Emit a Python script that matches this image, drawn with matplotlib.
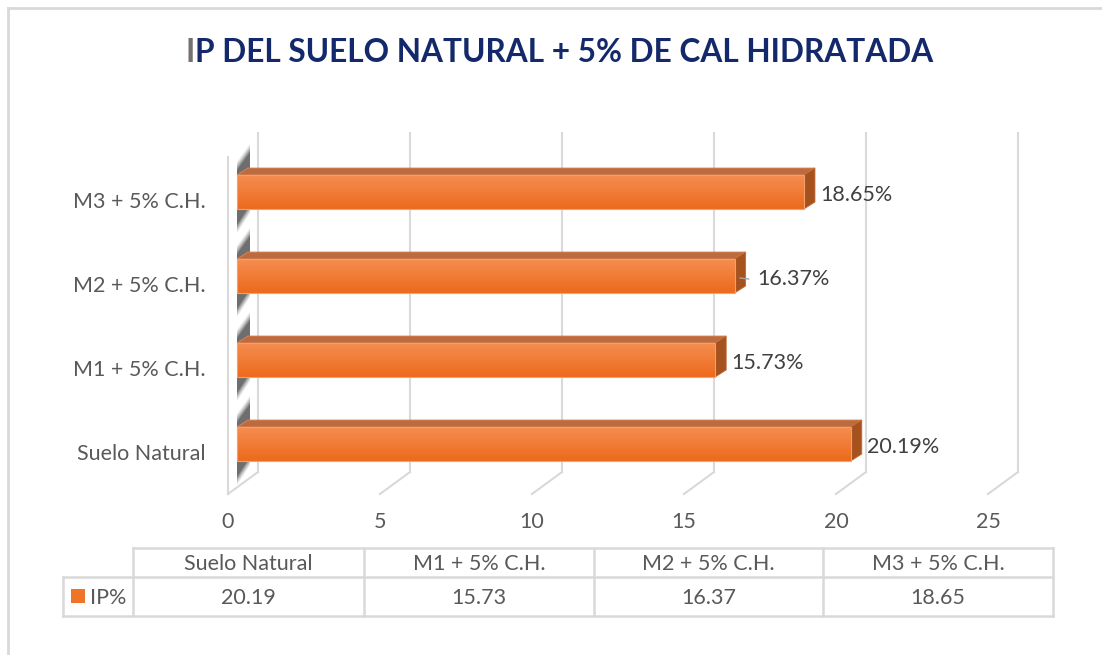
import matplotlib
matplotlib.use("Agg")
import matplotlib.pyplot as plt
import matplotlib.transforms as mtransforms
from matplotlib.patches import Polygon, Rectangle
import numpy as np

# data
categories = ["Suelo Natural", "M1 + 5% C.H.", "M2 + 5% C.H.", "M3 + 5% C.H."]
ip_values = [20.19, 15.73, 16.37, 18.65]
x_ticks = [0, 5, 10, 15, 20, 25]
series_name = "IP%"
title = "IP DEL SUELO NATURAL + 5% DE CAL HIDRATADA"

plt.rcParams['font.family'] = ['Lato', 'DejaVu Sans']

W, H = 1102, 655
fig = plt.figure(figsize=(W / 100, H / 100), dpi=100)
fig.patch.set_facecolor('white')

# overlay in pixel coords for frame, title and table
ov = fig.add_axes([0, 0, 1, 1])
ov.set_xlim(0, W)
ov.set_ylim(H, 0)
ov.axis('off')

grid_c = '#D9D9D9'
text_c = '#595959'
fs = 15.5

ov.plot([8, W], [7.5, 7.5], color=grid_c, lw=2)
ov.plot([8, 8], [7.5, H], color=grid_c, lw=2)

# title: grey first letter, navy rest
t1 = ov.text(186, 52, title[0], fontsize=22.8, fontweight='bold', color='#767171',
             ha='left', va='center')
fig.canvas.draw()
bb = t1.get_window_extent()
x_next = ov.transData.inverted().transform((bb.x1, bb.y0))[0]
ov.text(x_next, 52, title[1:], fontsize=22.8, fontweight='bold', color='#13296B',
        ha='left', va='center')

# chart axes (x in data units, y in category units)
x_left, x_right = 228, 988
y_bot, y_top = 500, 125
yc0, ystep = 444, 84
ax = fig.add_axes([x_left / W, (H - y_bot) / H, (x_right - x_left) / W, (y_bot - y_top) / H])
xpx = 25 / (x_right - x_left)
ypx = 1 / ystep
for s in ax.spines.values():
    s.set_visible(False)
ax.patch.set_alpha(0)

def py(p):
    return (yc0 - p) * ypx

floor_front = py(494)
floor_back = py(472)
wall_top = py(133)
back_dx = 30 * xpx

# gridlines
for v in x_ticks:
    ax.plot([v + back_dx, v + back_dx], [floor_back, wall_top], color=grid_c, lw=1.5,
            zorder=1, clip_on=False)
    ax.plot([v, v + back_dx], [floor_front, floor_back], color=grid_c, lw=1.5,
            zorder=1, clip_on=False)
ax.plot([0, 0], [floor_front, py(157)], color=grid_c, lw=1.5, zorder=1, clip_on=False)

y_pos = np.arange(len(categories))

# bar shadows on the left wall (soft, layered)
for c in y_pos:
    for k, a in zip(range(5), [0.10, 0.14, 0.18, 0.25, 0.35]):
        s = 4 - k
        pts = [(9 * xpx, c + (22 + s * 2) * ypx), (22 * xpx, c + (40 + s * 2) * ypx),
               (22 * xpx, c - (13 + s * 2) * ypx), (9 * xpx, c - (33 + s * 2) * ypx)]
        ax.add_patch(Polygon(pts, closed=True, facecolor='#303030', edgecolor='none',
                             alpha=a, zorder=2))

# 3d bars
x0 = 9 * xpx
dxb, dyb = 11 * xpx, 7 * ypx
hh = 17 * ypx
grad = np.linspace(0, 1, 64).reshape(-1, 1)
cmap = matplotlib.colors.LinearSegmentedColormap.from_list('o', ['#EC6A1C', '#F58D50'])
for c, v in zip(y_pos, ip_values):
    x1 = x0 + v
    top = [(x0, c + hh), (x1, c + hh), (x1 + dxb, c + hh + dyb), (x0 + dxb, c + hh + dyb)]
    ax.add_patch(Polygon(top, closed=True, facecolor='#BE6A3F', edgecolor='#D9875A', lw=0.6, zorder=4))
    side = [(x1, c - hh), (x1 + dxb, c - hh + dyb), (x1 + dxb, c + hh + dyb), (x1, c + hh)]
    ax.add_patch(Polygon(side, closed=True, facecolor='#A5521E', edgecolor='#C46A35', lw=0.6, zorder=4))
    rect = Rectangle((x0, c - hh), v, 2 * hh, facecolor='none', edgecolor='#F3A06E', lw=0.8, zorder=6)
    ax.add_patch(rect)
    im = ax.imshow(grad, extent=(x0, x1, c - hh, c + hh), origin='lower', cmap=cmap,
                   aspect='auto', zorder=5)
    im.set_clip_path(rect)
    # data label
    lx = x1 + dxb + 5 * xpx
    if abs(v - 16.37) < 1e-6:
        ax.plot([x1 + 0.5 * dxb, x1 + dxb + 3 * xpx], [c - 2 * ypx, c - 3 * ypx],
                color='#A5A5A5', lw=1, zorder=6)
        lx = x1 + dxb + 12 * xpx
    ax.text(lx, c - 3 * ypx, f"{v:.2f}%", fontsize=fs, color='#404040',
            ha='left', va='center', zorder=7)

ax.set_xlim(0, 25)
ax.set_ylim((yc0 - y_bot) * ypx, 3 + (yc0 - 3 * ystep - y_top) * ypx)

# axis labels
ax.set_xticks(x_ticks)
ax.set_xticklabels([str(t) for t in x_ticks])
ax.tick_params(axis='x', length=0, pad=9, labelsize=fs, labelcolor=text_c)
ax.set_yticks(y_pos)
ax.set_yticklabels(categories)
ax.tick_params(axis='y', length=0, pad=16, labelsize=fs, labelcolor=text_c)
shift = mtransforms.ScaledTranslation(0, -8 / 100, fig.dpi_scale_trans)
for lab in ax.get_yticklabels():
    lab.set_transform(lab.get_transform() + shift)

# data table
col_edges = [133, 364, 594, 823, 1053]
row_top, row_mid, row_bot = 548, 577, 616
lab_left = 63
ov.plot([col_edges[0], col_edges[-1]], [row_top, row_top], color=grid_c, lw=1.8)
ov.plot([lab_left, col_edges[-1]], [row_mid, row_mid], color=grid_c, lw=1.8)
ov.plot([lab_left, col_edges[-1]], [row_bot, row_bot], color=grid_c, lw=1.8)
ov.plot([lab_left, lab_left], [row_mid, row_bot], color=grid_c, lw=1.8)
for xe in col_edges:
    ov.plot([xe, xe], [row_top, row_bot], color=grid_c, lw=1.8)
for i, (name, v) in enumerate(zip(categories, ip_values)):
    xc = (col_edges[i] + col_edges[i + 1]) / 2
    ov.text(xc, (row_top + row_mid) / 2 + 1, name, fontsize=fs, color=text_c, ha='center', va='center')
    ov.text(xc, (row_mid + row_bot) / 2 + 1, f"{v:.2f}", fontsize=fs, color=text_c, ha='center', va='center')
ov.add_patch(Rectangle((71, 589), 14, 14, facecolor='#EF7428', edgecolor='none'))
ov.text(90, (row_mid + row_bot) / 2 + 1, series_name, fontsize=fs, color=text_c, ha='left', va='center')

fig.savefig('out.png', dpi=100)
